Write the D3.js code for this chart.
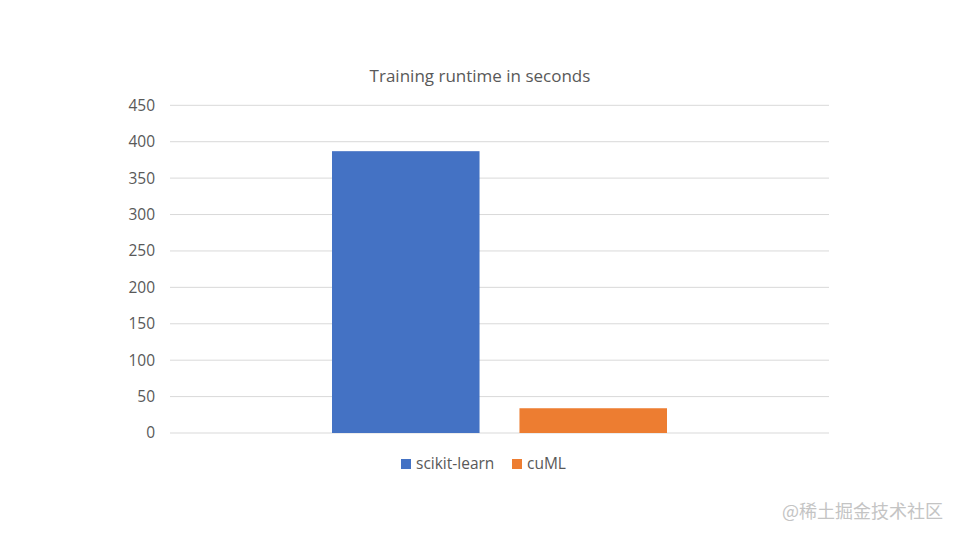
<!DOCTYPE html>
<html>
<head>
<meta charset="utf-8">
<script src="https://cdn.jsdelivr.net/npm/d3@7"></script>
<style>
  body { margin: 0; background: #fff; }
  text { font-family: "Open Sans", "Noto Sans", sans-serif; }
</style>
</head>
<body>
<div id="chart"></div>
<script>
"use strict"

// data
const seriesNames = ["scikit-learn", "cuML"];
const seriesValues = [387, 34];
const seriesColors = ["#4472C4", "#ED7D31"];
const yTicks = [0, 50, 100, 150, 200, 250, 300, 350, 400, 450];
const chartTitle = "Training runtime in seconds";

var width = 960, height = 539;
var plot = {left: 170, right: 829, top: 105.3, bottom: 433};

let svg = d3.select("#chart")
  .append("svg")
    .attr("width", width)
    .attr("height", height);

const y = d3.scaleLinear()
  .domain([0, 450])
  .range([plot.bottom, plot.top]);

// one category group, centered in the plot
const x0 = d3.scaleBand()
  .domain(["all"])
  .range([plot.left, plot.right])
  .paddingInner(0)
  .paddingOuter(0.4836);

const x1 = d3.scaleBand()
  .domain(seriesNames)
  .range([0, x0.bandwidth()])
  .paddingInner(0.213)
  .paddingOuter(0);

// gridlines
svg.append("g")
  .selectAll("line")
  .data(yTicks)
  .join("line")
    .attr("x1", plot.left)
    .attr("x2", plot.right)
    .attr("y1", d => y(d))
    .attr("y2", d => y(d))
    .attr("stroke", "#d9d9d9")
    .attr("stroke-width", 1);

// y axis labels
const yAxis = d3.axisLeft(y).tickValues(yTicks).tickSize(0).tickPadding(0);
svg.append("g")
  .attr("transform", "translate(155,0)")
  .call(yAxis)
  .call(g => g.select(".domain").remove())
  .call(g => g.selectAll("text")
      .attr("fill", "#595959")
      .style("font-size", "15.5px")
      .style("font-family", "'Open Sans', sans-serif"));

// bars
svg.append("g")
  .selectAll("rect")
  .data(seriesNames)
  .join("rect")
    .attr("x", (d, i) => x0("all") + x1(d))
    .attr("y", (d, i) => y(seriesValues[i]))
    .attr("width", x1.bandwidth())
    .attr("height", (d, i) => y(0) - y(seriesValues[i]))
    .attr("fill", (d, i) => seriesColors[i]);

// title
svg.append("text")
  .attr("x", 480)
  .attr("y", 82)
  .attr("text-anchor", "middle")
  .attr("fill", "#595959")
  .style("font-size", "17px")
  .text(chartTitle);

// legend
const legendX = [401, 512];
const legend = svg.append("g")
  .selectAll("g")
  .data(seriesNames)
  .join("g")
    .attr("transform", (d, i) => "translate(" + legendX[i] + ",459)");

legend.append("rect")
  .attr("width", 10)
  .attr("height", 10)
  .attr("fill", (d, i) => seriesColors[i]);

legend.append("text")
  .attr("x", 15)
  .attr("y", 10)
  .attr("fill", "#595959")
  .style("font-size", "15.5px")
  .text(d => d);

// watermark
svg.append("text")
  .attr("x", 943)
  .attr("y", 518)
  .attr("text-anchor", "end")
  .attr("fill", "#c4c4c4")
  .style("font-family", "'Noto Sans CJK SC', sans-serif")
  .style("font-size", "18px")
  .text("@稀土掘金技术社区");
</script>
</body>
</html>
